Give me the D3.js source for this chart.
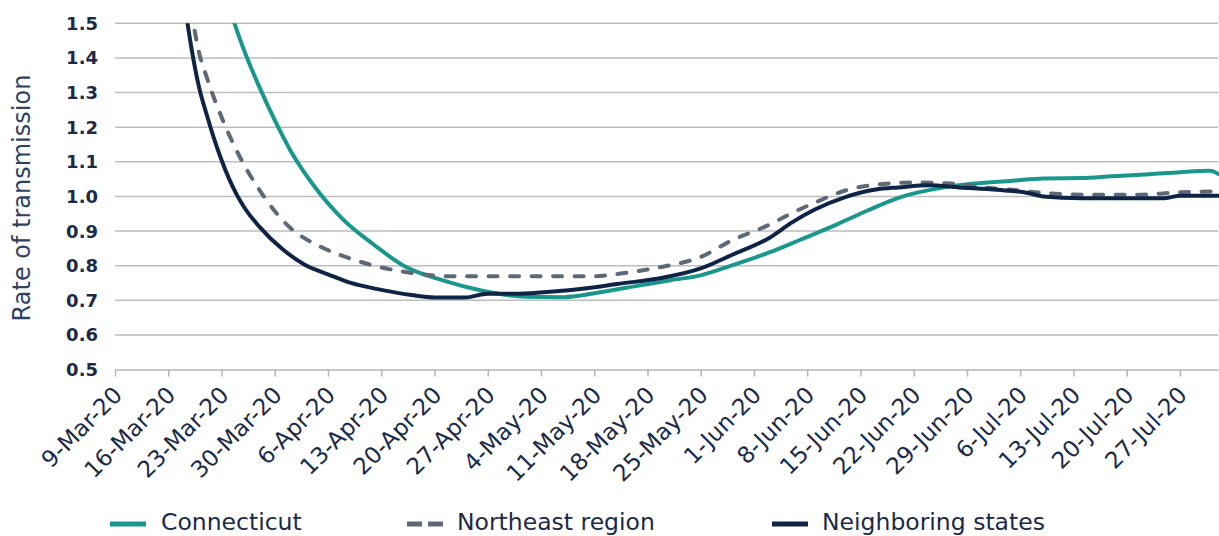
<!DOCTYPE html>
<meta charset="utf-8">
<style>
body { margin: 0; background: #fff; }
svg { display: block; font-family: "DejaVu Sans", sans-serif; }
.grid line { stroke: #bdbdbd; stroke-width: 1.5px; }
.xaxis path, .xaxis line { stroke: #b5b5b5; stroke-width: 1.5px; }
.xaxis text { fill: #1b2a47; font-size: 23px; font-family: "DejaVu Sans", sans-serif; }
.ylab { fill: #1b2a47; font-size: 18px; font-weight: bold; }
.ytitle { fill: #2f4260; font-size: 24px; }
.legend text { fill: #1b2a47; font-size: 23.5px; }
.series { fill: none; stroke-width: 4px; stroke-linejoin: round; }
</style>
<body>

<script src="https://d3js.org/d3.v7.min.js"></script>
<script>

// tick labels
var xTicks = ["9-Mar-20","16-Mar-20","23-Mar-20","30-Mar-20","6-Apr-20","13-Apr-20","20-Apr-20",
  "27-Apr-20","4-May-20","11-May-20","18-May-20","25-May-20","1-Jun-20","8-Jun-20","15-Jun-20",
  "22-Jun-20","29-Jun-20","6-Jul-20","13-Jul-20","20-Jul-20","27-Jul-20"];
var yTicks = [0.5,0.6,0.7,0.8,0.9,1.0,1.1,1.2,1.3,1.4,1.5];

// Connecticut
var ctDates = ["24-Mar-20","26-Mar-20","28-Mar-20","30-Mar-20","1-Apr-20","4-Apr-20","8-Apr-20",
  "12-Apr-20","16-Apr-20","21-Apr-20","26-Apr-20","2-May-20","7-May-20","12-May-20","17-May-20",
  "21-May-20","25-May-20","29-May-20","3-Jun-20","7-Jun-20","12-Jun-20","16-Jun-20","20-Jun-20",
  "26-Jun-20","30-Jun-20","5-Jul-20","9-Jul-20","14-Jul-20","18-Jul-20","23-Jul-20","27-Jul-20",
  "31-Jul-20","1-Aug-20"];
var ctValues = [1.545,1.42,1.315,1.22,1.135,1.035,0.933,0.861,0.799,0.758,0.729,0.71,0.709,0.724,
  0.743,0.758,0.772,0.80,0.838,0.874,0.92,0.96,0.996,1.026,1.037,1.045,1.052,1.053,1.058,1.064,
  1.07,1.074,1.065];

// Northeast region
var neDates = ["19-Mar-20","20-Mar-20","21-Mar-20","23-Mar-20","25-Mar-20","28-Mar-20","1-Apr-20",
  "5-Apr-20","9-Apr-20","13-Apr-20","17-Apr-20","22-Apr-20","11-May-20","14-May-20","20-May-20",
  "25-May-20","29-May-20","3-Jun-20","6-Jun-20","9-Jun-20","13-Jun-20","18-Jun-20","22-Jun-20",
  "27-Jun-20","1-Jul-20","5-Jul-20","9-Jul-20","14-Jul-20","22-Jul-20","27-Jul-20","1-Aug-20"];
var neValues = [1.54,1.42,1.348,1.229,1.132,1.018,0.91,0.855,0.82,0.795,0.779,0.769,0.769,0.776,
  0.797,0.825,0.872,0.918,0.952,0.982,1.017,1.036,1.04,1.037,1.026,1.019,1.01,1.005,1.005,1.012,1.014];

// Neighboring states
var nbDates = ["18-Mar-20","19-Mar-20","20-Mar-20","21-Mar-20","23-Mar-20","25-Mar-20","26-Mar-20",
  "28-Mar-20","31-Mar-20","3-Apr-20","6-Apr-20","9-Apr-20","13-Apr-20","17-Apr-20","20-Apr-20",
  "24-Apr-20","27-Apr-20","1-May-20","6-May-20","10-May-20","14-May-20","20-May-20","25-May-20",
  "29-May-20","3-Jun-20","6-Jun-20","9-Jun-20","13-Jun-20","17-Jun-20","20-Jun-20","24-Jun-20",
  "28-Jun-20","3-Jul-20","7-Jul-20","9-Jul-20","14-Jul-20","25-Jul-20","27-Jul-20","1-Aug-20"];
var nbValues = [1.58,1.435,1.32,1.24,1.105,1.005,0.968,0.912,0.848,0.802,0.775,0.75,0.73,0.715,
  0.708,0.708,0.719,0.719,0.726,0.735,0.747,0.765,0.792,0.83,0.88,0.925,0.962,0.998,1.02,1.026,
  1.032,1.026,1.019,1.01,1.0,0.995,0.995,1.002,1.002];

var seriesNames = ["Connecticut","Northeast region","Neighboring states"];
var seriesColors = ["#1a978c","#5d6976","#0e2446"];

var W = 1219, H = 536;
var plotLeft = 115, plotRight = 1218, plotTop = 23.3, plotBottom = 369.5;

var parseDay = d3.utcParse("%d-%b-%y");
var fmtDay = d3.utcFormat("%-d-%b-%y");

var x = d3.scaleUtc()
    .domain([parseDay("9-Mar-20"), parseDay("1-Aug-20")])
    .range([plotLeft, plotRight]);
var y = d3.scaleLinear().domain([0.5, 1.5]).range([plotBottom, plotTop]);

var svg = d3.select("body").append("svg")
    .attr("width", W)
    .attr("height", H);

// gridlines
svg.append("g").attr("class", "grid")
  .selectAll("line")
  .data(yTicks.slice(1))
  .enter().append("line")
    .attr("x1", plotLeft).attr("x2", plotRight)
    .attr("y1", function(d) { return y(d); })
    .attr("y2", function(d) { return y(d); });

// y labels
svg.append("g")
  .selectAll("text")
  .data(yTicks)
  .enter().append("text")
    .attr("class", "ylab")
    .attr("x", 98)
    .attr("y", function(d) { return y(d); })
    .attr("text-anchor", "end")
    .attr("dominant-baseline", "central")
    .text(function(d) { return d3.format(".1f")(d); });

svg.append("text")
    .attr("class", "ytitle")
    .attr("transform", "translate(30,198) rotate(-90)")
    .attr("text-anchor", "middle")
    .text("Rate of transmission");

// x axis
var xAxis = svg.append("g")
    .attr("class", "xaxis")
    .attr("transform", "translate(0," + plotBottom + ")")
    .call(d3.axisBottom(x)
      .tickValues(xTicks.map(parseDay))
      .tickFormat(fmtDay)
      .tickSize(7)
      .tickSizeOuter(0));

xAxis.attr("font-family", null).attr("font-size", null);

xAxis.selectAll("text")
    .attr("x", null).attr("y", null).attr("dy", null)
    .attr("text-anchor", "end")
    .attr("transform", "translate(8,27) rotate(-45)");

// lines
svg.append("clipPath").attr("id", "plot")
  .append("rect")
    .attr("x", plotLeft).attr("y", plotTop)
    .attr("width", plotRight - plotLeft + 4).attr("height", plotBottom - plotTop);

var line = d3.line()
    .x(function(d) { return x(d.date); })
    .y(function(d) { return y(d.value); })
    .curve(d3.curveMonotoneX);

function toRows(dates, values) {
  return dates.map(function(d, i) { return {date: parseDay(d), value: values[i]}; });
}

var allSeries = [toRows(ctDates, ctValues), toRows(neDates, neValues), toRows(nbDates, nbValues)];

var plot = svg.append("g").attr("clip-path", "url(#plot)");

plot.selectAll("path")
  .data(allSeries)
  .enter().append("path")
    .attr("class", "series")
    .attr("d", line)
    .attr("stroke", function(d, i) { return seriesColors[i]; })
    .attr("stroke-dasharray", function(d, i) { return i == 1 ? "9,12.5" : null; })
    .attr("stroke-linecap", "round");

// legend
var legendX = [110, 407, 772];
var legend = svg.append("g").attr("class", "legend")
  .selectAll("g")
  .data(seriesNames)
  .enter().append("g")
    .attr("transform", function(d, i) { return "translate(" + legendX[i] + ",524)"; });

legend.append("line")
    .attr("x1", 0).attr("x2", 36)
    .attr("stroke", function(d, i) { return seriesColors[i]; })
    .attr("stroke-width", 5)
    .attr("stroke-dasharray", function(d, i) { return i == 1 ? "15,6" : null; });

legend.append("text")
    .attr("x", function(d, i) { return i == 0 ? 51 : 50; })
    .attr("y", 6)
    .text(function(d) { return d; });

</script>
</body>
